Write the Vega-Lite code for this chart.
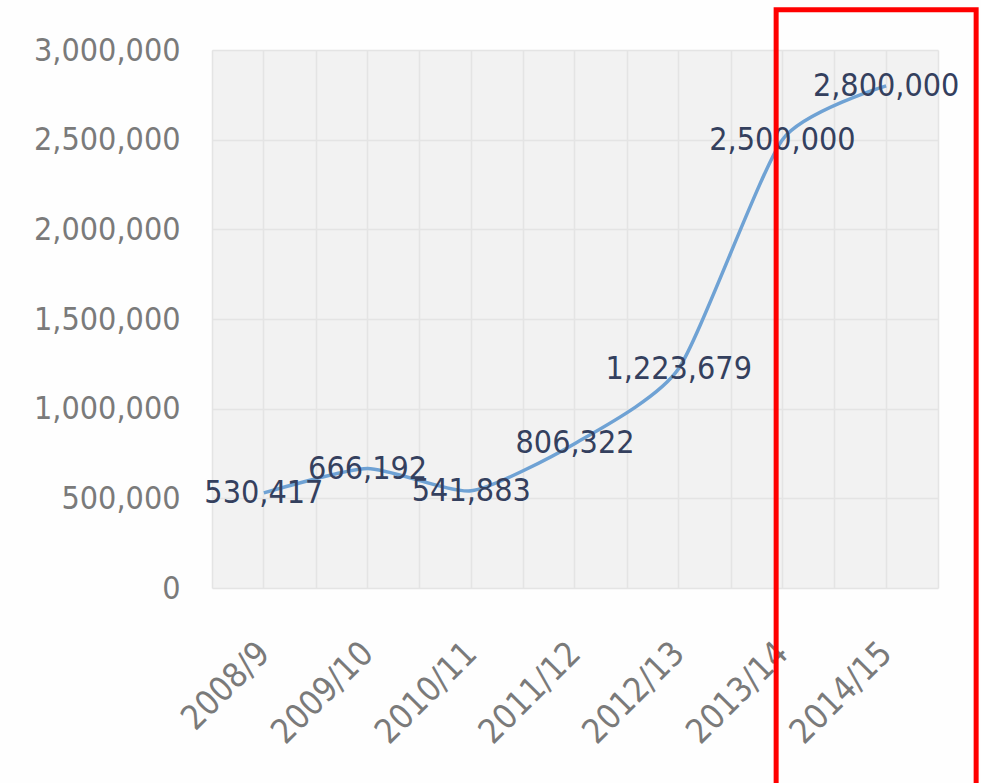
{
  "$schema": "https://vega.github.io/schema/vega-lite/v6.json",
  "autosize": "none",
  "width": 726,
  "height": 538,
  "padding": {"left": 212, "top": 50, "right": 43, "bottom": 195},
  "background": "#fefefe",
  "config": {
    "view": {"fill": "#f2f2f2", "stroke": null},
    "font": "DejaVu Sans Condensed, Liberation Sans, sans-serif"
  },
  "datasets": {
    "main": [
      {"period": "2008/9", "students": 530417},
      {"period": "2009/10", "students": 666192},
      {"period": "2010/11", "students": 541883},
      {"period": "2011/12", "students": 806322},
      {"period": "2012/13", "students": 1223679},
      {"period": "2013/14", "students": 2500000},
      {"period": "2014/15", "students": 2800000}
    ],
    "highlight": [
      {"period": "2014/15", "top": 3225000, "bottom": -1250000}
    ]
  },
  "resolve": {"axis": {"x": "independent"}},
  "layer": [
    {
      "data": {"name": "main"},
      "mark": {"type": "line", "interpolate": "cardinal", "tension": 0.4, "color": "#6fa2d4", "strokeWidth": 3.5},
      "encoding": {
        "x": {
          "field": "period", "type": "nominal",
          "scale": {"type": "band", "paddingInner": 0, "paddingOuter": 0,
                    "domain": ["2008/9", "2009/10", "2010/11", "2011/12", "2012/13", "2013/14", "2014/15"]},
          "axis": {
            "title": null, "tickBand": "extent", "grid": true, "gridColor": "#e4e4e4", "gridWidth": 1.5,
            "ticks": false, "domain": false, "labelAngle": -45, "labelAlign": "right", "labelBaseline": "middle",
            "labelPadding": 60, "labelFontSize": 34, "labelColor": "#7a7a7a", "labelDx": 8
          }
        },
        "y": {
          "field": "students", "type": "quantitative",
          "scale": {"domain": [0, 3000000], "nice": false},
          "axis": {
            "title": null, "values": [0, 500000, 1000000, 1500000, 2000000, 2500000, 3000000],
            "format": ",d", "grid": true, "gridColor": "#e4e4e4", "gridWidth": 1.5,
            "ticks": false, "domain": false, "labelPadding": 32, "labelFontSize": 32, "labelColor": "#7a7a7a"
          }
        }
      }
    },
    {
      "data": {"name": "main"},
      "mark": {"type": "text", "align": "center", "baseline": "middle", "fontSize": 32, "color": "#34405e"},
      "encoding": {
        "x": {
          "field": "period", "type": "nominal",
          "axis": {"orient": "top", "title": null, "labels": false, "ticks": false, "domain": false,
                   "grid": true, "gridColor": "#e4e4e4", "gridWidth": 1.5}
        },
        "y": {"field": "students", "type": "quantitative"},
        "text": {"field": "students", "type": "quantitative", "format": ",d"}
      }
    },
    {
      "data": {"name": "highlight"},
      "mark": {"type": "bar", "filled": false, "stroke": "#ff0000", "strokeWidth": 5, "size": 200, "xOffset": -10, "clip": false},
      "encoding": {
        "x": {"field": "period", "type": "nominal", "axis": null},
        "y": {"field": "top", "type": "quantitative"},
        "y2": {"field": "bottom"}
      }
    }
  ]
}
